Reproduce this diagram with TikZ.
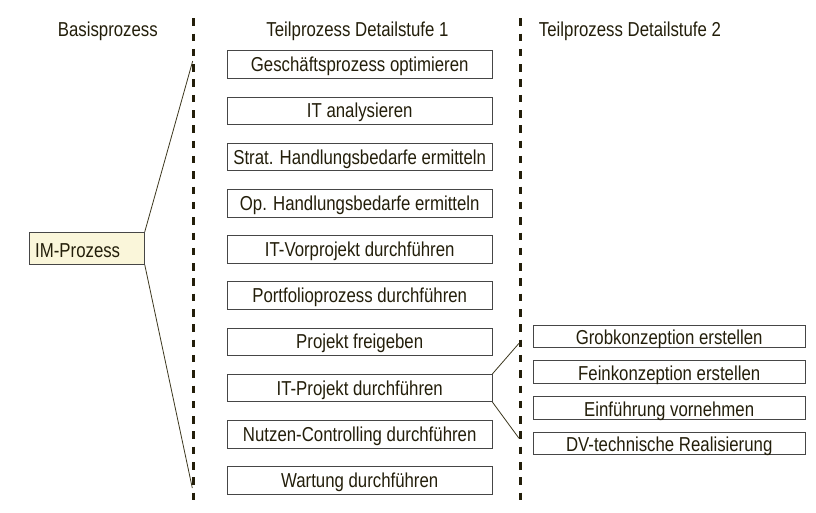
\documentclass[tikz,border=0pt]{standalone}
\usepackage{fontspec}
\setmainfont{Liberation Sans}
\definecolor{txt}{RGB}{35,30,10}
\definecolor{ln}{RGB}{60,55,30}
\definecolor{bord}{RGB}{70,70,70}
\definecolor{imfill}{RGB}{250,246,218}
\newcommand{\Tx}[1]{\scalebox{1}[1.2]{#1}}
\begin{document}
\begin{tikzpicture}[x=1pt,y=-1pt,
  every node/.style={font=\fontsize{16.8}{19}\selectfont, text=txt},
  midbox/.style={draw=bord, line width=0.9pt, minimum width=264.7pt, minimum height=27.5pt, inner sep=0pt, text height=14.2pt, text depth=0pt},
  rbox/.style={draw=bord, line width=0.9pt, minimum width=271.7pt, minimum height=22.5pt, inner sep=0pt, text height=17.2pt, text depth=0pt},
  sep/.style={line width=3pt, draw=txt, dash pattern=on 7.5pt off 7.8pt},
  conn/.style={draw=ln, line width=0.8pt}]
\useasboundingbox (0,0) rectangle (816,513);
% headers
\node[anchor=base, inner sep=0pt] (h0) at (107.8,36.7) {\Tx{Basisprozess}};
\node[anchor=base, inner sep=0pt] (h1) at (357.5,36.7) {\Tx{Teilprozess Detailstufe 1}};
\node[anchor=base, inner sep=0pt] (h2) at (630,36.7) {\Tx{Teilprozess Detailstufe 2}};
% separators
\coordinate (s1a) at (193.3,18.3); \coordinate (s1b) at (193.3,500);
\coordinate (s2a) at (520,18.3); \coordinate (s2b) at (520,500);
\draw[sep] (s1a) -- (s1b);
\draw[sep] (s2a) -- (s2b);
% IM box
\node[draw=bord, line width=0.9pt, fill=imfill, minimum width=115.3pt, minimum height=32pt, inner sep=0pt] (im) at (86.65,248.3) {};
\node[anchor=base west, inner sep=0pt] (imt) at (35,257) {\Tx{IM-Prozess}};
% middle boxes
\node[midbox] (m1) at (359.7,64.6) {\Tx{Geschäftsprozess optimieren}};
\node[midbox] (m2) at (359.7,110.8) {\Tx{IT analysieren}};
\node[midbox] (m3) at (359.7,157.0) {\Tx{Strat. Handlungsbedarfe ermitteln}};
\node[midbox] (m4) at (359.7,203.2) {\Tx{Op. Handlungsbedarfe ermitteln}};
\node[midbox] (m5) at (359.7,249.4) {\Tx{IT-Vorprojekt durchführen}};
\node[midbox] (m6) at (359.7,295.6) {\Tx{Portfolioprozess durchführen}};
\node[midbox] (m7) at (359.7,341.8) {\Tx{Projekt freigeben}};
\node[midbox] (m8) at (359.7,388.0) {\Tx{IT-Projekt durchführen}};
\node[midbox] (m9) at (359.7,434.2) {\Tx{Nutzen-Controlling durchführen}};
\node[midbox] (m10) at (359.7,480.4) {\Tx{Wartung durchführen}};
% right boxes
\node[rbox] (r1) at (669.2,336.2) {\Tx{Grobkonzeption erstellen}};
\node[rbox] (r2) at (669.2,372) {\Tx{Feinkonzeption erstellen}};
\node[rbox] (r3) at (669.2,407.7) {\Tx{Einführung vornehmen}};
\node[rbox] (r4) at (669.2,443.3) {\Tx{DV-technische Realisierung}};
% connectors
\coordinate (c1) at (192.7,61);
\coordinate (c2) at (192.3,488);
\draw[conn] (im.north east) -- (c1);
\draw[conn] (im.south east) -- (c2);
\coordinate (c3) at (519,343.3);
\coordinate (c4) at (519,438.3);
\draw[conn] (m8.north east) -- (c3);
\draw[conn] (m8.south east) -- (c4);
\end{tikzpicture}
\end{document}
